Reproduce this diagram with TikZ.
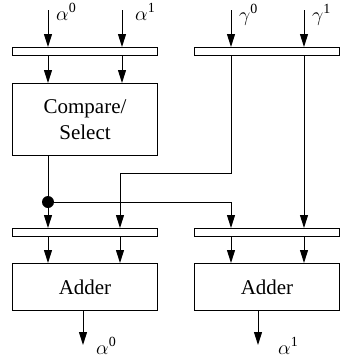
\RequirePackage{fix-cm}
\documentclass[tikz,border=0pt]{standalone}
\usepackage{fontspec}
\setmainfont{Liberation Serif}
\usetikzlibrary{arrows.meta}
\newcommand\sig[2]{$#1$\raisebox{8pt}{\fontsize{14}{14}\selectfont #2}}
\begin{document}
\begin{tikzpicture}[x=1pt,y=-1pt,
  wire/.style={line width=1pt},
  arr/.style={wire,-{Triangle[length=13pt,width=8pt]}},
  reg/.style={draw,line width=1pt,minimum width=145pt,minimum height=8pt,inner sep=0pt,anchor=north west},
  blk/.style={draw,line width=1pt,minimum width=145pt,inner sep=0pt,anchor=north west,align=center,font=\fontsize{21}{26}\selectfont},
  lbl/.style={font=\fontsize{20}{22}\selectfont,inner sep=0pt,anchor=base west}]
\useasboundingbox (0,0) rectangle (340,359);
% registers and blocks
\node[reg] (r1) at (12,47) {};
\node[reg] (r2) at (194,47) {};
\node[blk,minimum height=72pt] (cs) at (12,83) {Compare/\\Select};
\node[reg] (r3) at (12,228) {};
\node[reg] (r4) at (194,228) {};
\node[blk,minimum height=47pt] (a1) at (12,263) {Adder};
\node[blk,minimum height=47pt] (a2) at (194,263) {Adder};
% signal columns
\coordinate (i0) at (48,10);
\coordinate (i1) at (122,10);
\coordinate (g0) at (231,10);
\coordinate (g1) at (304,10);
\coordinate (c1) at (120,173);
\coordinate (bend) at (231,173);
% inputs
\draw[arr] (i0) -- (i0 |- r1.north);
\draw[arr] (i1) -- (i1 |- r1.north);
\draw[arr] (g0) -- (g0 |- r2.north);
\draw[arr] (g1) -- (g1 |- r2.north);
\node[lbl] at (56,20) {\sig{\alpha}{0}};
\node[lbl] at (135,20) {\sig{\alpha}{1}};
\node[lbl] at (239,21) {\sig{\gamma}{0}};
\node[lbl] at (312,21) {\sig{\gamma}{1}};
% into compare/select
\draw[arr] (i0 |- r1.south) -- (i0 |- cs.north);
\draw[arr] (i1 |- r1.south) -- (i1 |- cs.north);
% gamma paths
\draw[arr] (g0 |- r2.south) -- (bend) -- (c1) -- (c1 |- r3.north);
\draw[arr] (g1 |- r2.south) -- (g1 |- r4.north);
% compare/select output with split
\node[circle,fill,inner sep=0pt,minimum size=12pt] (dot) at (48,202) {};
\draw[wire] (i0 |- cs.south) -- (dot);
\draw[arr] (dot) -- (dot |- r3.north);
\draw[arr] (dot) -- (g0 |- dot) -- (g0 |- r4.north);
% into adders
\draw[arr] (i0 |- r3.south) -- (i0 |- a1.north);
\draw[arr] (c1 |- r3.south) -- (c1 |- a1.north);
\draw[arr] (g0 |- r4.south) -- (g0 |- a2.north);
\draw[arr] (g1 |- r4.south) -- (g1 |- a2.north);
% outputs
\coordinate (o0) at (83,345);
\coordinate (o1) at (258,345);
\draw[arr] (o0 |- a1.south) -- (o0);
\draw[arr] (o1 |- a2.south) -- (o1);
\node[lbl] at (96,354) {\sig{\alpha}{0}};
\node[lbl] at (278,354) {\sig{\alpha}{1}};
\end{tikzpicture}
\end{document}
